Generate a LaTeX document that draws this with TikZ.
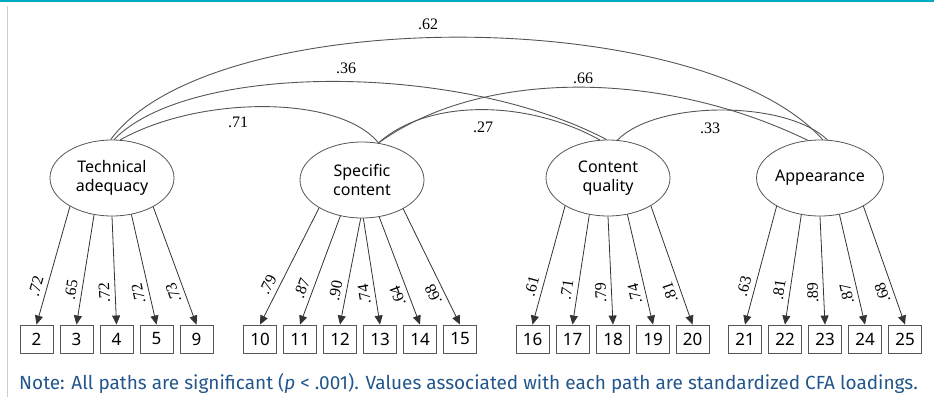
\documentclass[tikz,border=0pt]{standalone}
\usepackage{fontspec}
\setmainfont{Liberation Serif}
\newfontfamily\latentfont{Noto Sans}
\newfontfamily\notefont{Fira Sans}
\usetikzlibrary{shapes.geometric,arrows.meta}

\definecolor{framecol}{RGB}{0,170,192}
\definecolor{notecol}{RGB}{34,86,140}
\definecolor{edgecol}{RGB}{85,85,85}

\tikzset{
  factor/.style={ellipse, draw=edgecol, line width=0.8pt, minimum width=124pt, minimum height=76pt,
    inner sep=0pt, align=center, font=\latentfont\fontsize{16}{19}\selectfont},
  item/.style={draw=edgecol, line width=0.9pt, minimum width=33pt, minimum height=28pt, inner sep=0pt,
    font=\latentfont\fontsize{17}{19}\selectfont},
  load/.style={draw=black!80, line width=0.8pt, {Triangle[length=9pt,width=8pt]}-},
  coef/.style={sloped, allow upside down, above=4pt, pos=0.3, inner sep=1pt,
    font=\fontsize{16}{16}\selectfont},
  corr/.style={draw=edgecol, line width=0.9pt},
  rlab/.style={inner sep=0pt, font=\fontsize{16}{16}\selectfont},
}

\begin{document}
\begin{tikzpicture}[x=1pt,y=-1pt]
  \useasboundingbox (0,0) rectangle (934,397);
  % frame
  \draw[framecol, line width=2pt] (0,1) -- (934,1);
  \draw[black!20] (7,6) -- (7,397);

  % Latent factors
  \node[factor] (tech) at (112,178) {Technical\\adequacy};
  \node[factor] (spec) at (362,180) {Specific\\content};
  \node[factor] (qual) at (608,178) {Content\\quality};
  \node[factor] (app) at (820,178) {Appearance};

  % Items
  \node[item] (i2) at (36.5,339) {2};
  \node[item] (i3) at (76.5,339) {3};
  \node[item] (i4) at (116.5,339) {4};
  \node[item] (i5) at (156.5,339) {5};
  \node[item] (i9) at (196.5,339) {9};

  \node[item] (i10) at (260,339) {10};
  \node[item] (i11) at (300,339) {11};
  \node[item] (i12) at (340,339) {12};
  \node[item] (i13) at (380,339) {13};
  \node[item] (i14) at (420,339) {14};
  \node[item] (i15) at (460,339) {15};

  \node[item] (i16) at (532.5,339) {16};
  \node[item] (i17) at (572.5,339) {17};
  \node[item] (i18) at (613,339) {18};
  \node[item] (i19) at (653,339) {19};
  \node[item] (i20) at (692.5,339) {20};

  \node[item] (i21) at (745,339) {21};
  \node[item] (i22) at (785,339) {22};
  \node[item] (i23) at (825,339) {23};
  \node[item] (i24) at (865,339) {24};
  \node[item] (i25) at (905,339) {25};

  % Loadings
  \draw[load] (i2.north) -- node[coef] {.72} (tech.214);
  \draw[load] (i3.north) -- node[coef] {.65} (tech.244);
  \draw[load] (i4.north) -- node[coef] {.72} (tech.270);
  \draw[load] (i5.north) -- node[coef] {.72} (tech.298);
  \draw[load] (i9.north) -- node[coef] {.73} (tech.325);

  \draw[load] (i10.north) -- node[coef] {.79} (spec.213);
  \draw[load] (i11.north) -- node[coef] {.87} (spec.239);
  \draw[load] (i12.north) -- node[coef] {.90} (spec.268);
  \draw[load] (i13.north) -- node[coef] {.74} (spec.272);
  \draw[load] (i14.north) -- node[coef] {.64} (spec.295);
  \draw[load] (i15.north) -- node[coef] {.68} (spec.325);

  \draw[load] (i16.north) -- node[coef] {.61} (qual.213);
  \draw[load] (i17.north) -- node[coef] {.71} (qual.243);
  \draw[load] (i18.north) -- node[coef] {.79} (qual.270);
  \draw[load] (i19.north) -- node[coef] {.74} (qual.298);
  \draw[load] (i20.north) -- node[coef] {.81} (qual.327);

  \draw[load] (i21.north) -- node[coef] {.63} (app.213);
  \draw[load] (i22.north) -- node[coef] {.81} (app.243);
  \draw[load] (i23.north) -- node[coef] {.89} (app.270);
  \draw[load] (i24.north) -- node[coef] {.87} (app.298);
  \draw[load] (i25.north) -- node[coef] {.68} (app.327);

  % Correlations
  \draw[corr] (tech.92) .. controls (211,3) and (700,3) .. (app.86);
  \draw[corr] (tech.87) .. controls (189,62) and (459,62) .. (qual.92);
  \draw[corr] (tech.78) .. controls (200,95) and (340,95) .. (spec.66);
  \draw[corr] (spec.66) .. controls (481,69) and (661,69) .. (app.108);
  \draw[corr] (spec.66) .. controls (427,99) and (526,99) .. (qual.102);
  \draw[corr] (qual.76) .. controls (657,100) and (786,100) .. (app.79);

  \node[rlab] (r62) at (428,24) {.62};
  \node[rlab] (r36) at (346,68) {.36};
  \node[rlab] (r71) at (238,122) {.71};
  \node[rlab] (r66) at (583,78) {.66};
  \node[rlab] (r27) at (483,127) {.27};
  \node[rlab] (r33) at (710,128) {.33};

  % Note
  \node[anchor=base west, inner sep=0pt, text=notecol, font=\notefont\fontsize{19}{22}\selectfont]
    (note) at (19,389) {Note: All paths are significant (\textit{p} < .001). Values associated with each path are standardized CFA loadings.};
\end{tikzpicture}
\end{document}
